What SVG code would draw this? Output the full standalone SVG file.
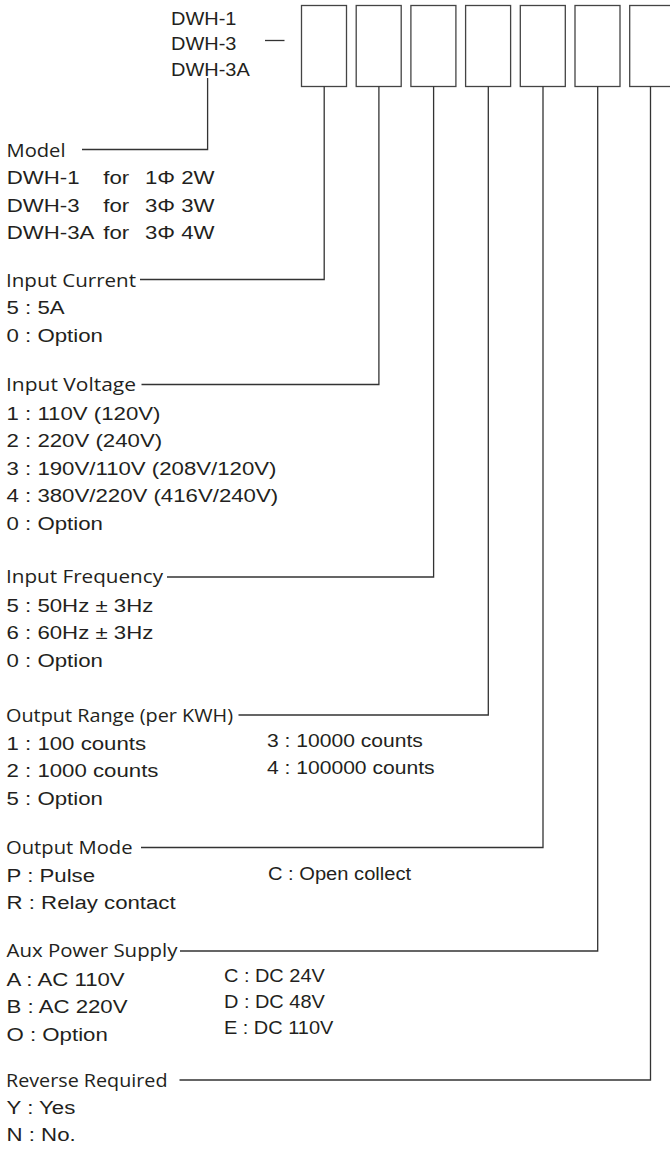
<svg xmlns="http://www.w3.org/2000/svg" width="670" height="1151" viewBox="0 0 670 1151">
<style>
  .hd { font-family: "Open Sans", "Noto Sans", sans-serif; font-size: 18.5px; fill: #231f20; }
  .op { font-family: "Liberation Sans", Arial, sans-serif; font-size: 19px; fill: #231f20; }
  .box { fill: #fff; stroke: #444; stroke-width: 1.3; }
  .ln { fill: none; stroke: #333; stroke-width: 1.3; }
</style>
<rect width="670" height="1151" fill="#fff"/>

<g id="model-code">
  <g transform="scale(1.05 1)">
    <text class="op" x="162.9" y="25">DWH-1</text>
    <text class="op" x="162.9" y="50.5">DWH-3</text>
    <text class="op" x="162.9" y="76.5">DWH-3A</text>
  </g>
  <line class="ln" x1="265" y1="40.5" x2="284.5" y2="40.5"/>
</g>

<g id="code-boxes">
  <rect class="box" x="301.5" y="5.5" width="45" height="81"/>
  <rect class="box" x="356.2" y="5.5" width="45" height="81"/>
  <rect class="box" x="410.9" y="5.5" width="45" height="81"/>
  <rect class="box" x="465.6" y="5.5" width="45" height="81"/>
  <rect class="box" x="520.3" y="5.5" width="45" height="81"/>
  <rect class="box" x="575" y="5.5" width="45" height="81"/>
  <rect class="box" x="629.7" y="5.5" width="45" height="81"/>
</g>

<g id="connectors">
  <polyline class="ln" points="207.6,78 207.6,149.5 82,149.5"/>
  <polyline class="ln" points="324.2,86.5 324.2,279.5 140,279.5"/>
  <polyline class="ln" points="378.9,86.5 378.9,384.5 141.5,384.5"/>
  <polyline class="ln" points="433.6,86.5 433.6,577 167,577"/>
  <polyline class="ln" points="488.3,86.5 488.3,715 238.5,715"/>
  <polyline class="ln" points="543,86.5 543,847.5 141,847.5"/>
  <polyline class="ln" points="597.7,86.5 597.7,951 180,951"/>
  <polyline class="ln" points="650.5,86.5 650.5,1080 179.5,1080"/>
</g>

<g id="node-model">
  <text class="hd" x="6.5" y="156.7" textLength="59" lengthAdjust="spacingAndGlyphs">Model</text>
  <g transform="scale(1.17 1)">
    <text class="op" y="184.3"><tspan x="5.73">DWH-1</tspan><tspan x="88.3">for</tspan><tspan x="123.9">1Φ 2W</tspan></text>
    <text class="op" y="211.7"><tspan x="5.73">DWH-3</tspan><tspan x="88.3">for</tspan><tspan x="123.9">3Φ 3W</tspan></text>
    <text class="op" y="239.3"><tspan x="5.73">DWH-3A</tspan><tspan x="88.3">for</tspan><tspan x="123.9">3Φ 4W</tspan></text>
  </g>
</g>

<g id="node-input-current">
  <text class="hd" x="6" y="286.7" textLength="130" lengthAdjust="spacingAndGlyphs">Input Current</text>
  <g transform="scale(1.17 1)">
    <text class="op" x="5.6" y="314.3">5 : 5A</text>
    <text class="op" x="5.6" y="342.3">0 : Option</text>
  </g>
</g>

<g id="node-input-voltage">
  <text class="hd" x="6" y="391" textLength="130" lengthAdjust="spacingAndGlyphs">Input Voltage</text>
  <g transform="scale(1.17 1)">
    <text class="op" x="5.6" y="420">1 : 110V (120V)</text>
    <text class="op" x="5.6" y="447.5">2 : 220V (240V)</text>
    <text class="op" x="5.6" y="475">3 : 190V/110V (208V/120V)</text>
    <text class="op" x="5.6" y="502.5">4 : 380V/220V (416V/240V)</text>
    <text class="op" x="5.6" y="530">0 : Option</text>
  </g>
</g>

<g id="node-input-frequency">
  <text class="hd" x="6" y="583.3" textLength="157" lengthAdjust="spacingAndGlyphs">Input Frequency</text>
  <g transform="scale(1.17 1)">
    <text class="op" x="5.6" y="611.7">5 : 50Hz ± 3Hz</text>
    <text class="op" x="5.6" y="639.3">6 : 60Hz ± 3Hz</text>
    <text class="op" x="5.6" y="666.7">0 : Option</text>
  </g>
</g>

<g id="node-output-range">
  <text class="hd" x="6" y="721.7" textLength="227" lengthAdjust="spacingAndGlyphs">Output Range (per KWH)</text>
  <g transform="scale(1.17 1)">
    <text class="op" x="5.6" y="750">1 : 100 counts</text>
    <text class="op" x="5.6" y="777.3">2 : 1000 counts</text>
    <text class="op" x="5.6" y="805">5 : Option</text>
  </g>
  <g transform="scale(1.11 1)">
    <text class="op" x="240.5" y="747">3 : 10000 counts</text>
    <text class="op" x="240.5" y="774">4 : 100000 counts</text>
  </g>
</g>

<g id="node-output-mode">
  <text class="hd" x="6" y="854" textLength="126.5" lengthAdjust="spacingAndGlyphs">Output Mode</text>
  <g transform="scale(1.17 1)">
    <text class="op" x="5.6" y="881.7">P : Pulse</text>
    <text class="op" x="5.6" y="909">R : Relay contact</text>
  </g>
  <g transform="scale(1.06 1)">
    <text class="op" x="252.8" y="880">C : Open collect</text>
  </g>
</g>

<g id="node-aux-power">
  <text class="hd" x="6.5" y="957" textLength="171" lengthAdjust="spacingAndGlyphs">Aux Power Supply</text>
  <g transform="scale(1.17 1)">
    <text class="op" x="5.6" y="986">A : AC 110V</text>
    <text class="op" x="5.6" y="1013">B : AC 220V</text>
    <text class="op" x="5.6" y="1041">O : Option</text>
  </g>
  <g transform="scale(1.05 1)">
    <text class="op" x="213.3" y="982">C : DC 24V</text>
    <text class="op" x="213.3" y="1008">D : DC 48V</text>
    <text class="op" x="213.3" y="1034">E : DC 110V</text>
  </g>
</g>

<g id="node-reverse">
  <text class="hd" x="6" y="1087" textLength="161.5" lengthAdjust="spacingAndGlyphs">Reverse Required</text>
  <g transform="scale(1.17 1)">
    <text class="op" x="5.6" y="1114">Y : Yes</text>
    <text class="op" x="5.6" y="1141">N : No.</text>
  </g>
</g>
</svg>
